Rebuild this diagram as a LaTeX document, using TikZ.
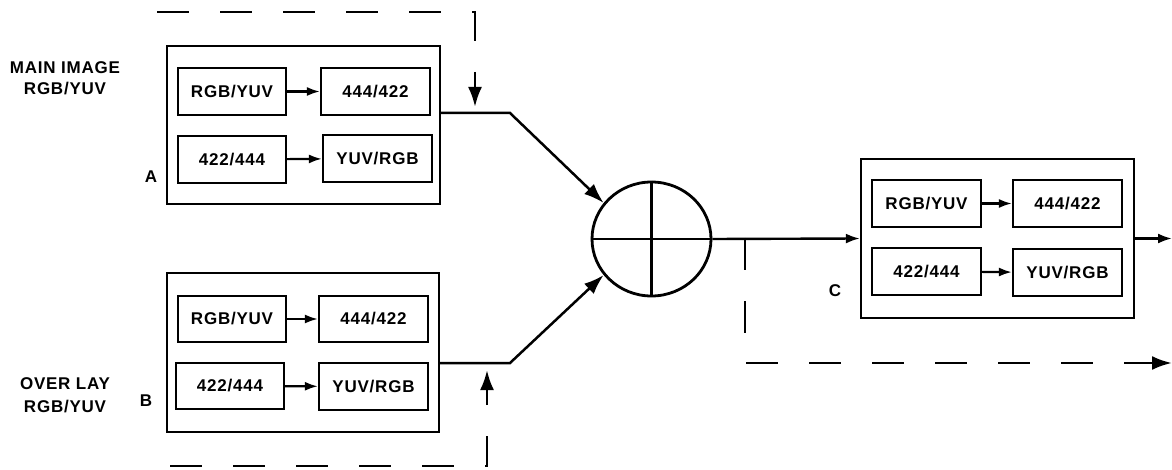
\documentclass[tikz,border=0pt]{standalone}
\usepackage{fontspec}
\setmainfont{Liberation Sans}[LetterSpace=4.5]
\usetikzlibrary{shapes.geometric,arrows.meta}
\tikzset{
  lbl/.style={font=\fontsize{17}{21}\selectfont\bfseries, inner sep=0pt, align=center},
  inbox/.style={draw, line width=2.2pt, inner sep=0pt, font=\fontsize{17}{21}\selectfont\bfseries},
  outbox/.style={draw, line width=2.3pt, inner sep=0pt},
  smallarr/.style={line width=2.2pt, -{Latex[length=13pt,width=9pt]}},
  midarr/.style={line width=2.4pt, -{Latex[length=14pt,width=10pt]}},
  bigarr/.style={line width=2.5pt, -{Latex[length=20pt,width=14pt]}},
  dsh/.style={line width=2.8pt, dash pattern=on 32pt off 31pt, -{Latex[length=20pt,width=14pt]}}
}
\begin{document}
\begin{tikzpicture}[x=1pt,y=-1pt]
\useasboundingbox (0,0) rectangle (1172,470);

% outer boxes
\node[outbox, minimum width=273pt, minimum height=158pt] (A) at (303.5,125) {};
\node[outbox, minimum width=272pt, minimum height=159pt] (B) at (303,352.5) {};
\node[outbox, minimum width=273pt, minimum height=159pt] (C) at (997.5,238.5) {};

% inner boxes A
\node[inbox, minimum width=108pt, minimum height=47pt] (a1) at (232,91.5) {RGB/YUV};
\node[inbox, minimum width=109pt, minimum height=47pt] (a2) at (375.5,91.5) {444/422};
\node[inbox, minimum width=108pt, minimum height=47pt] (a3) at (232,159.5) {422/444};
\node[inbox, minimum width=109pt, minimum height=47pt] (a4) at (377.5,158.5) {YUV/RGB};
% inner boxes B
\node[inbox, minimum width=108pt, minimum height=46pt] (b1) at (232,319) {RGB/YUV};
\node[inbox, minimum width=109pt, minimum height=46pt] (b2) at (373.5,319) {444/422};
\node[inbox, minimum width=108pt, minimum height=46pt] (b3) at (230,386) {422/444};
\node[inbox, minimum width=109pt, minimum height=47pt] (b4) at (373.5,386.5) {YUV/RGB};
% inner boxes C
\node[inbox, minimum width=109pt, minimum height=47pt] (c1) at (926.5,203.5) {RGB/YUV};
\node[inbox, minimum width=109pt, minimum height=47pt] (c2) at (1067.5,203.5) {444/422};
\node[inbox, minimum width=109pt, minimum height=47pt] (c3) at (926.5,271.5) {422/444};
\node[inbox, minimum width=109pt, minimum height=47pt] (c4) at (1067.5,272.5) {YUV/RGB};

\draw[smallarr] (a1) -- (a2);
\draw[smallarr] (a3) -- (a4);
\draw[smallarr] (b1) -- (b2);
\draw[smallarr] (b3) -- (b4);
\draw[smallarr] (c1) -- (c2);
\draw[smallarr] (c3) -- (c4);

% labels
\node[lbl] (lmain) at (65,78) {MAIN IMAGE\\RGB/YUV};
\node[lbl] (lover) at (65,395.5) {OVER LAY\\[2pt]RGB/YUV};
\node[lbl] (la) at (151,177) {A};
\node[lbl] (lb) at (146,401) {B};
\node[lbl] (lc) at (835,291) {C};

% summing junction
\node[draw, ellipse, line width=2.8pt, minimum width=119pt, minimum height=114pt, inner sep=0pt] (s) at (651.5,239) {};
\draw[line width=2.4pt] (s.north) -- (s.south);
\draw[line width=2.4pt] (s.west) -- (s.east);

% connectors
\coordinate (kA) at (510,113);
\coordinate (kB) at (510,363);
\draw[bigarr] ([yshift=12pt]A.east) -- (kA) -- (s.143);
\draw[bigarr] ([yshift=-10.5pt]B.east) -- (kB) -- (s.217);
\draw[midarr] (s.east) -- (C.west);
\coordinate (cout) at (1172,238.5);
\draw[midarr] (C.east) -- (cout);

% dashed control paths
\coordinate (t0) at (157,12);
\coordinate (t1) at (475,12);
\coordinate (t2) at (475,107);
\draw[dsh] (t0) -- (t1) -- (t2);
\coordinate (u0) at (170,466);
\coordinate (u1) at (487,466);
\coordinate (u2) at (487,370);
\draw[dsh] (u0) -- (u1) -- (u2);
\coordinate (v0) at (745,238);
\coordinate (v1) at (745,363);
\coordinate (v2) at (1172,363);
\draw[dsh] (v0) -- (v1) -- (v2);
\end{tikzpicture}
\end{document}
